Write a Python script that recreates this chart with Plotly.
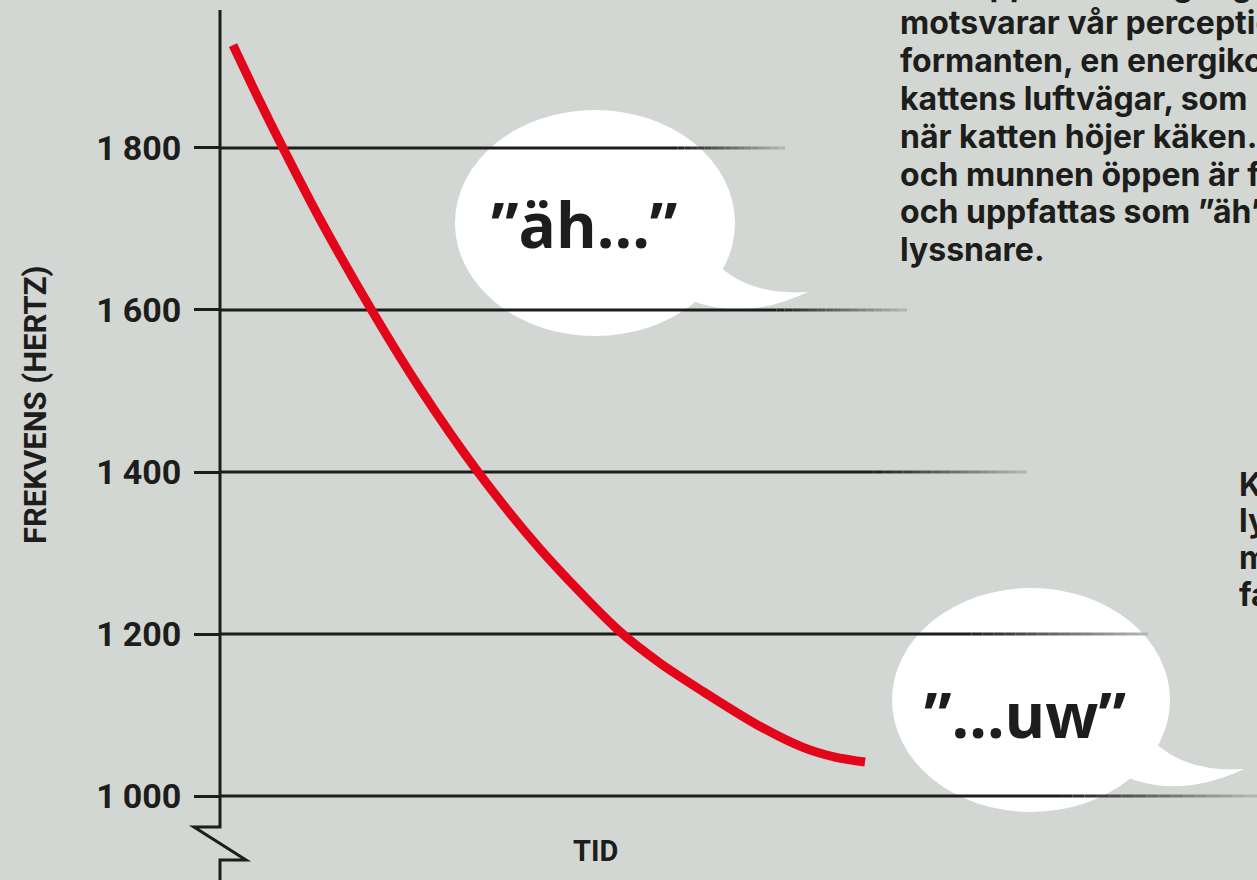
import plotly.graph_objects as go

# ---------------- data ----------------
time_units = [1.3, 4.0, 6.3, 10.0, 15.2, 20.0, 25.8, 32.0, 39.8, 44.0, 48.3, 53.7, 58.3, 61.5, 64.5]
freq_hz = [1927, 1857, 1800, 1712, 1599, 1503, 1400, 1305, 1205, 1164, 1129, 1088, 1060, 1048, 1042]

tick_vals = [1000, 1200, 1400, 1600, 1800]
tick_text = ["1\u2009000", "1\u2009200", "1\u2009400", "1\u2009600", "1\u2009800"]

bubble_texts = ["\u201däh...\u201d", "\u201d...uw\u201d"]

body_lines = [
    "Den upplevda tongången",
    "motsvarar vår perception",
    "formanten, en energikoncentration i",
    "kattens luftvägar, som",
    "när katten höjer käken. Med käken",
    "och munnen öppen är formanten hög",
    "och uppfattas som \u201däh\u201d av de flesta",
    "lyssnare.",
]
side_lines = ["Kort därefter", "lyssnar", "munnen", "faller"]

# ---------------- style ----------------
W, H = 1257, 880
BG = "#d3d7d3"
INK = "#1d1d1b"
RED = "#e3061b"


def X(px):
    return px / W


def Y(py):
    return 1 - py / H


fig = go.Figure()

fig.add_trace(go.Scatter(
    x=time_units, y=freq_hz, mode="lines",
    line=dict(color=RED, width=9, shape="spline", smoothing=0.8),
    hoverinfo="skip", showlegend=False,
))

shapes = []

# speech bubbles (ellipse + tail), pixel geometry
bubbles = [
    dict(cx=595, cy=223, rx=140, ry=113, dx=0, dy=0),
    dict(cx=1031, cy=700, rx=139, ry=112, dx=436, dy=477),
]
for b in bubbles:
    shapes.append(dict(type="circle", xref="paper", yref="paper",
                       x0=X(b["cx"] - b["rx"]), x1=X(b["cx"] + b["rx"]),
                       y0=Y(b["cy"] + b["ry"]), y1=Y(b["cy"] - b["ry"]),
                       fillcolor="white", line=dict(width=0), layer="below"))
    dx, dy = b["dx"], b["dy"]
    pts = [(715, 262), (748, 296), (808, 292), (744, 322), (690, 300), (640, 250)]
    p = [(X(a + dx), Y(c + dy)) for a, c in pts]
    path = (f"M{p[0][0]},{p[0][1]} Q{p[1][0]},{p[1][1]} {p[2][0]},{p[2][1]} "
            f"Q{p[3][0]},{p[3][1]} {p[4][0]},{p[4][1]} L{p[5][0]},{p[5][1]} Z")
    shapes.append(dict(type="path", xref="paper", yref="paper", path=path,
                       fillcolor="white", line=dict(width=0), layer="below"))

# gridlines with fading ends (x in time units, from the axis)
grid_end = [103.7, 92.8, 80.7, 68.7, 56.5]


def mix(c1, c2, f):
    a = [int(c1[i:i + 2], 16) for i in (1, 3, 5)]
    b = [int(c2[i:i + 2], 16) for i in (1, 3, 5)]
    return "#" + "".join(f"{int(round(a[k] + (b[k] - a[k]) * f)):02x}" for k in range(3))


for val, end in zip(tick_vals, grid_end):
    fade = end * 0.19
    solid_end = end - fade
    shapes.append(dict(type="line", xref="x", yref="y", x0=0, x1=solid_end,
                       y0=val, y1=val, line=dict(color=INK, width=3), layer="below"))
    n = 16
    for i in range(n):
        xa = solid_end + fade * i / n
        xb = solid_end + fade * (i + 1) / n
        shapes.append(dict(type="line", xref="x", yref="y", x0=xa, x1=xb,
                           y0=val, y1=val,
                           line=dict(color=mix(INK, "#b8bab8", (i + 0.5) / n), width=3),
                           layer="below"))

# y axis line with break symbol
ax_pts = [(220, 10), (220, 827), (194, 827), (246, 860), (220, 860), (220, 880)]
ax_path = "M" + " L".join(f"{X(a)},{Y(c)}" for a, c in ax_pts)
shapes.append(dict(type="path", xref="paper", yref="paper", path=ax_path,
                   line=dict(color=INK, width=3), layer="above"))

annotations = []
# bubble texts
for txt, (bx, by) in zip(bubble_texts, [(584, 224), (1025, 714)]):
    annotations.append(dict(xref="paper", yref="paper", x=X(bx), y=Y(by),
                            text=txt, showarrow=False, xanchor="center", yanchor="middle",
                            font=dict(family="Open Sans", size=62, color=INK, weight="bold")))

# axis titles
annotations.append(dict(xref="paper", yref="paper", x=X(35), y=Y(405),
                        text="FREKVENS (HERTZ)", textangle=-90, showarrow=False,
                        xanchor="center", yanchor="middle",
                        font=dict(family="Roboto", size=31, color=INK, weight="bold")))
annotations.append(dict(xref="paper", yref="paper", x=X(595), y=Y(851),
                        text="TID", showarrow=False, xanchor="center", yanchor="middle",
                        font=dict(family="Roboto", size=29, color=INK, weight="bold")))

# body text (cut off at the figure edge, as in the source)
for i, line in enumerate(body_lines):
    base = -5 + 37.8 * i
    annotations.append(dict(xref="paper", yref="paper", x=X(898), y=Y(base - 10),
                            text=line, showarrow=False, xanchor="left", yanchor="middle",
                            font=dict(family="Inter", size=32, color=INK, weight="bold")))
for i, line in enumerate(side_lines):
    base = 494 + 36.7 * i
    annotations.append(dict(xref="paper", yref="paper", x=X(1237), y=Y(base - 10),
                            text=line, showarrow=False, xanchor="left", yanchor="middle",
                            font=dict(family="Inter", size=32, color=INK, weight="bold")))

fig.update_layout(
    width=W, height=H,
    margin=dict(l=0, r=0, t=0, b=0),
    paper_bgcolor=BG, plot_bgcolor=BG,
    showlegend=False,
    shapes=shapes,
    annotations=annotations,
    xaxis=dict(domain=[220 / W, 1], range=[0, 103.7], visible=False, fixedrange=True),
    yaxis=dict(domain=[0, 1], range=[896.3, 1982.7], tickvals=tick_vals, ticktext=tick_text,
               ticks="outside", ticklen=25, tickwidth=3, tickcolor=INK,
               showgrid=False, zeroline=False, showline=False, ticklabelstandoff=6,
               tickfont=dict(family="Roboto", size=34, color=INK, weight="bold"),
               fixedrange=True),
)

fig.write_html("out.html", post_script="document.body.style.margin='0px';",
               config={"displayModeBar": False})
